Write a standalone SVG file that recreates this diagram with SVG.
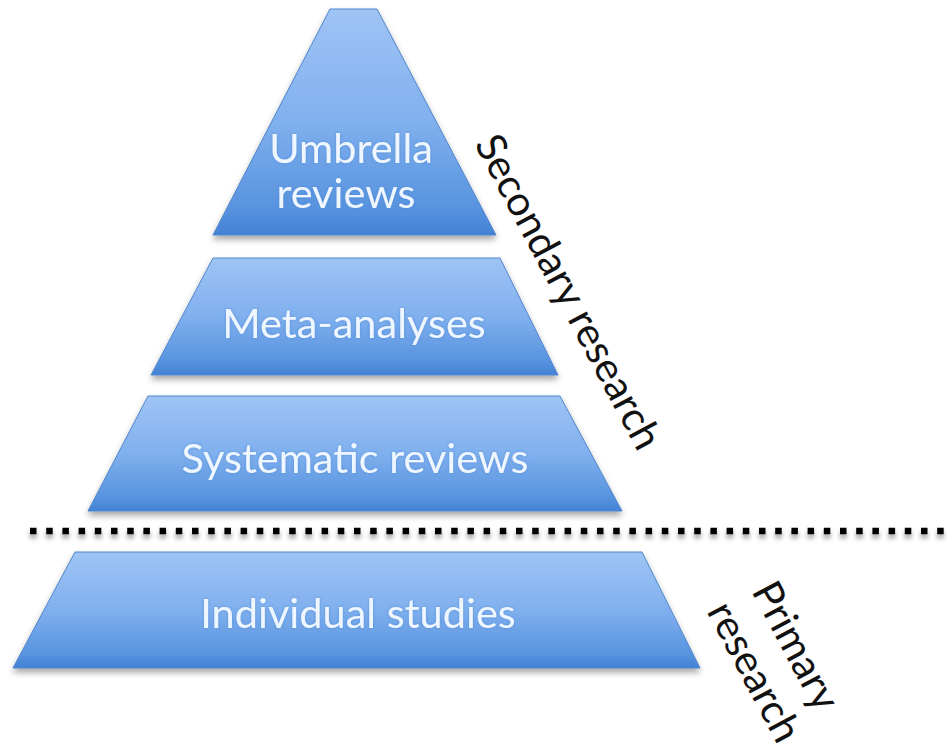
<svg xmlns="http://www.w3.org/2000/svg" width="951" height="754" viewBox="0 0 951 754">
  <defs>
    <linearGradient id="blueGrad" x1="0" y1="0" x2="0" y2="1">
      <stop offset="0" stop-color="#9fc4f5"/>
      <stop offset="0.5" stop-color="#80b0ee"/>
      <stop offset="0.88" stop-color="#5893df"/>
      <stop offset="1" stop-color="#4281d4"/>
    </linearGradient>
    <filter id="shadow" x="-10%" y="-10%" width="120%" height="130%">
      <feDropShadow dx="0" dy="4" stdDeviation="3" flood-color="#000" flood-opacity="0.35"/>
    </filter>
    <filter id="dotShadow" filterUnits="userSpaceOnUse" x="0" y="515" width="951" height="35">
      <feDropShadow dx="0" dy="4" stdDeviation="2.5" flood-color="#000" flood-opacity="0.4"/>
    </filter>
    <filter id="glow" x="-10%" y="-30%" width="120%" height="160%">
      <feGaussianBlur in="SourceAlpha" stdDeviation="1.5" result="b"/>
      <feFlood flood-color="#3f7fd0" flood-opacity="0.6"/>
      <feComposite in2="b" operator="in" result="g"/>
      <feMerge><feMergeNode in="g"/><feMergeNode in="SourceGraphic"/></feMerge>
    </filter>
  </defs>
  <style>
    .tier { fill: url(#blueGrad); stroke: #4f86cc; stroke-width: 1; filter: url(#shadow); }
    .lbl { font-family: Lato, "Liberation Sans", sans-serif; font-size: 41.5px; fill: #eef6ff; text-anchor: middle; filter: url(#glow); }
    .side { font-family: Lato, "Liberation Sans", sans-serif; font-size: 41px; fill: #111; }
    .sep { stroke: #000; stroke-width: 6.5; stroke-dasharray: 6.5 9.7; fill: none; filter: url(#dotShadow); }
  </style>
  <rect x="0" y="0" width="951" height="754" fill="#fff"/>

  <g id="umbrella-reviews">
    <polygon class="tier" points="330,9 377,9 496,235 213,235"/>
    <text class="lbl"><tspan x="351" y="163">Umbrella</tspan><tspan x="346" y="208">reviews</tspan></text>
  </g>

  <g id="meta-analyses">
    <polygon class="tier" points="213,258 500,258 558,375 151,375"/>
    <text class="lbl" x="354" y="338">Meta-analyses</text>
  </g>

  <g id="systematic-reviews">
    <polygon class="tier" points="148,396 560,396 622,511 88,511"/>
    <text class="lbl" x="355" y="473">Systematic reviews</text>
  </g>

  <g id="individual-studies">
    <polygon class="tier" points="75,552 642,552 700,668 13,668"/>
    <text class="lbl" x="358" y="628">Individual studies</text>
  </g>

  <g id="connectors">
    <line class="sep" x1="30" y1="531" x2="951" y2="531"/>
  </g>

  <g id="secondary-research-label">
    <text class="side" transform="translate(474,144) rotate(62)">Secondary research</text>
  </g>

  <g id="primary-research-label">
    <text class="side" transform="translate(751,591) rotate(62)"><tspan x="0" y="0">Primary</tspan><tspan x="-3" y="49">research</tspan></text>
  </g>
</svg>
